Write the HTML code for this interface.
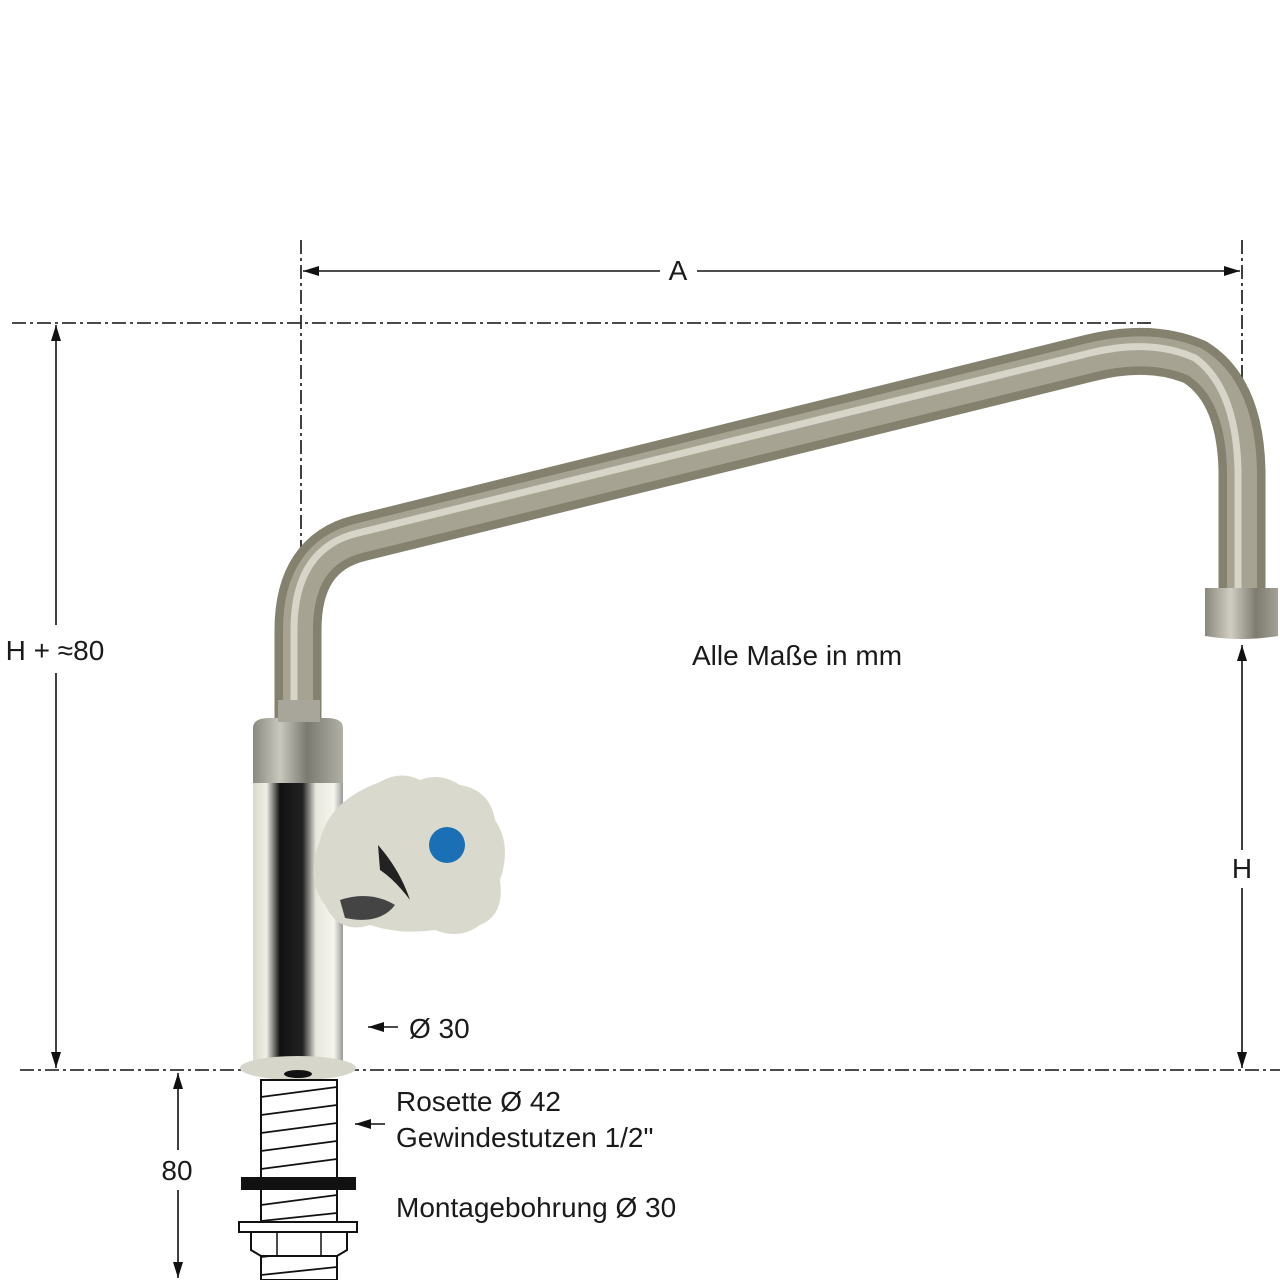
<!DOCTYPE html>
<html><head><meta charset="utf-8"><style>
html,body{margin:0;padding:0;background:#fff;}
svg{display:block;}
text{font-family:"Liberation Sans",sans-serif;font-size:28px;fill:#1a1a1a;}
</style></head><body>
<svg width="1280" height="1280" viewBox="0 0 1280 1280" xmlns="http://www.w3.org/2000/svg">
<defs>
<marker id="ar" markerWidth="16" markerHeight="10" refX="16" refY="5" orient="auto" markerUnits="userSpaceOnUse"><path d="M0,0 L16,5 L0,10 Z" fill="#111"/></marker>
<linearGradient id="body" x1="0" x2="1" y1="0" y2="0">
<stop offset="0" stop-color="#d8d8cc"/><stop offset="0.15" stop-color="#f0f0e6"/><stop offset="0.3" stop-color="#111"/><stop offset="0.55" stop-color="#222"/><stop offset="0.7" stop-color="#e8e8de"/><stop offset="0.9" stop-color="#f5f5ee"/><stop offset="1" stop-color="#999"/>
</linearGradient>
<linearGradient id="nut" x1="0" x2="1"><stop offset="0" stop-color="#8a8a80"/><stop offset="0.3" stop-color="#c8c8be"/><stop offset="0.6" stop-color="#7a7a70"/><stop offset="1" stop-color="#b0b0a6"/></linearGradient>
<linearGradient id="noz" x1="0" x2="1"><stop offset="0" stop-color="#8a877c"/><stop offset="0.35" stop-color="#d0cdc2"/><stop offset="0.7" stop-color="#7e7b70"/><stop offset="1" stop-color="#a4a196"/></linearGradient>
</defs>

<g stroke="#111" stroke-width="1.6" fill="none" stroke-dasharray="14,4,3,4">
<line x1="12" y1="323" x2="1155" y2="323"/>
<line x1="20" y1="1070" x2="1280" y2="1070"/>
<line x1="301" y1="240" x2="301" y2="565"/>
<line x1="1242" y1="240" x2="1242" y2="385"/>
<line x1="300" y1="1082" x2="300" y2="1220"/>
</g>

<path d="M298,735 L298,630 Q298,553 360,538 L1090,358 Q1150,343 1195,362 Q1240,390 1242,470 L1242,595" fill="none" stroke="#85816f" stroke-width="47"/>
<path d="M298,735 L298,630 Q298,553 360,538 L1090,358 Q1150,343 1195,362 Q1240,390 1242,470 L1242,595" fill="none" stroke="#a6a393" stroke-width="30"/>
<path d="M294,735 L294,630 Q294,548 358,533 L1090,353 Q1150,338 1195,358 Q1236,388 1238,470 L1238,595" fill="none" stroke="#d6d5c8" stroke-width="7"/>
<path d="M1205,588 L1278,588 L1278,636 Q1242,642 1205,636 Z" fill="url(#noz)"/>

<rect x="253" y="770" width="90" height="300" fill="url(#body)"/>
<path d="M253,728 Q253,718 270,718 L326,718 Q343,718 343,728 L343,783 L253,783 Z" fill="url(#nut)"/>
<rect x="278" y="700" width="42" height="22" fill="#a8a59a"/>
<ellipse cx="298" cy="1068" rx="58" ry="12" fill="#d6d6ca"/>
<ellipse cx="298" cy="1074" rx="14" ry="4" fill="#111"/>

<path d="M320,840 Q330,800 380,782 Q400,770 420,780 Q440,772 460,785 Q490,790 495,820 Q512,845 500,880 Q505,915 480,925 Q460,940 435,930 Q400,935 370,925 Q340,935 325,905 Q305,880 320,840 Z" fill="#d9d9cd"/>
<path d="M340,900 Q370,890 395,905 Q380,925 345,918 Z" fill="#444"/>
<path d="M378,845 Q400,870 410,900 Q395,880 380,870 Z" fill="#222"/>
<circle cx="447" cy="845" r="18" fill="#1a6fb5"/>

<rect x="261" y="1080" width="76" height="200" fill="#fff" stroke="#111" stroke-width="2"/>
<g stroke="#111" stroke-width="1.8">
<line x1="261" y1="1097" x2="337" y2="1087"/>
<line x1="261" y1="1115" x2="337" y2="1105"/>
<line x1="261" y1="1133" x2="337" y2="1123"/>
<line x1="261" y1="1151" x2="337" y2="1141"/>
<line x1="261" y1="1169" x2="337" y2="1159"/>
<line x1="261" y1="1205" x2="337" y2="1195"/>
<line x1="261" y1="1221" x2="337" y2="1213"/>
<line x1="261" y1="1257" x2="337" y2="1249"/>
<line x1="261" y1="1275" x2="337" y2="1267"/>
</g>
<rect x="241" y="1177" width="115" height="13" fill="#111"/>
<rect x="239" y="1222" width="118" height="10" fill="#fff" stroke="#111" stroke-width="2"/>
<path d="M251,1232 L347,1232 L347,1250 L337,1256 L261,1256 L251,1250 Z" fill="#fff" stroke="#111" stroke-width="2"/>
<line x1="277" y1="1232" x2="277" y2="1256" stroke="#111" stroke-width="1.5"/>
<line x1="321" y1="1232" x2="321" y2="1256" stroke="#111" stroke-width="1.5"/>

<g stroke="#111" stroke-width="1.6" fill="none">
<line x1="660" y1="271" x2="303" y2="271" marker-end="url(#ar)"/>
<line x1="697" y1="271" x2="1240" y2="271" marker-end="url(#ar)"/>
<line x1="56" y1="625" x2="56" y2="325" marker-end="url(#ar)"/>
<line x1="56" y1="673" x2="56" y2="1068" marker-end="url(#ar)"/>
<line x1="1242" y1="850" x2="1242" y2="645" marker-end="url(#ar)"/>
<line x1="1242" y1="888" x2="1242" y2="1068" marker-end="url(#ar)"/>
<line x1="178" y1="1150" x2="178" y2="1073" marker-end="url(#ar)"/>
<line x1="178" y1="1190" x2="178" y2="1278" marker-end="url(#ar)"/>
<line x1="398" y1="1027" x2="368" y2="1027" marker-end="url(#ar)"/>
<line x1="385" y1="1124" x2="355" y2="1124" marker-end="url(#ar)"/>
</g>

<text x="678" y="280" text-anchor="middle">A</text>
<text x="55" y="660" text-anchor="middle">H + ≈80</text>
<text x="1242" y="878" text-anchor="middle">H</text>
<text x="177" y="1180" text-anchor="middle">80</text>
<text x="692" y="665">Alle Maße in mm</text>
<text x="409" y="1038">Ø 30</text>
<text x="396" y="1111">Rosette Ø 42</text>
<text x="396" y="1147">Gewindestutzen 1/2"</text>
<text x="396" y="1217">Montagebohrung Ø 30</text>
</svg>
</body></html>
